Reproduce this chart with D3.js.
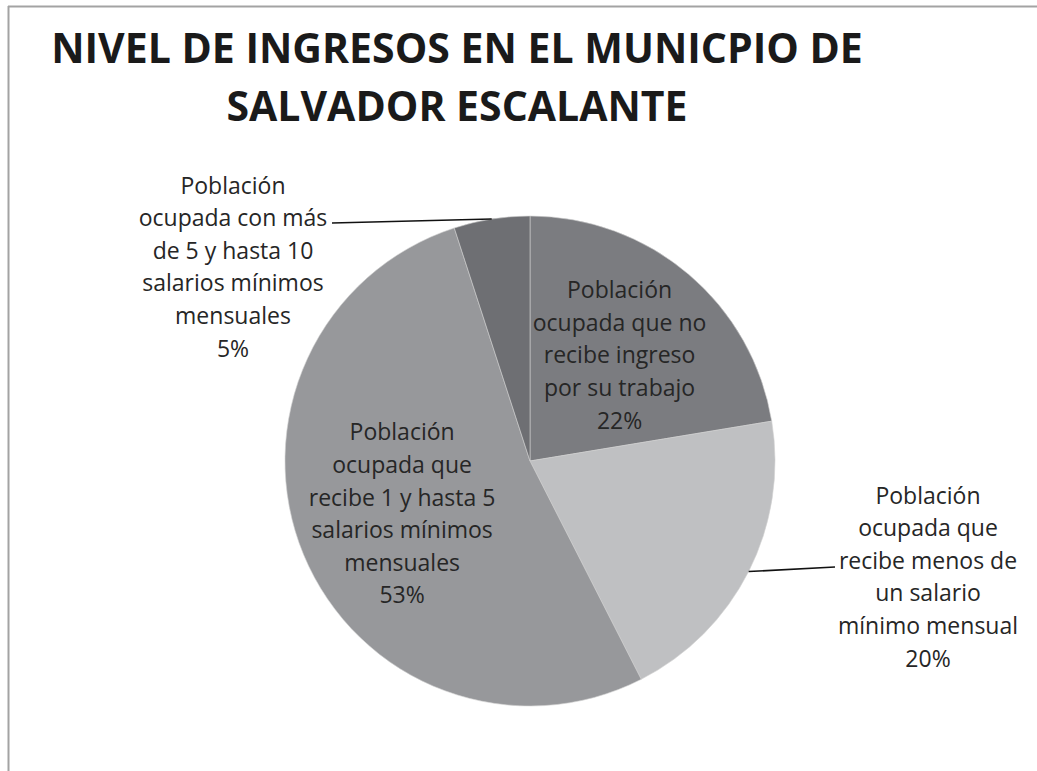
<!DOCTYPE html>
<html>
<head>
<meta charset="utf-8">
<script src="https://cdn.jsdelivr.net/npm/d3@7"></script>
<style>
  body { margin: 0; background: #fff; }
  svg { display: block; }
  .title { font-family: "Open Sans", sans-serif; font-weight: bold; fill: #1a1a1a; }
  .lbl { font-family: "Open Sans", sans-serif; fill: #262626; }
</style>
</head>
<body>
<div id="chart"></div>
<script>
// chart data
const titleLines = ['NIVEL DE INGRESOS EN EL MUNICPIO DE', 'SALVADOR ESCALANTE'];
const categories = [
  'Población ocupada que no recibe ingreso por su trabajo',
  'Población ocupada que recibe menos de un salario mínimo mensual',
  'Población ocupada que recibe 1 y hasta 5 salarios mínimos mensuales',
  'Población ocupada con más de 5 y hasta 10 salarios mínimos mensuales'
];
const values = [22.4, 20.1, 52.5, 5.0];
const pctLabels = ['22%', '20%', '53%', '5%'];
// how each label is broken into lines (as in the original)
const labelLines = [
  ['Población', 'ocupada que no', 'recibe ingreso', 'por su trabajo'],
  ['Población', 'ocupada que', 'recibe menos de', 'un salario', 'mínimo mensual'],
  ['Población', 'ocupada que', 'recibe 1 y hasta 5', 'salarios mínimos', 'mensuales'],
  ['Población', 'ocupada con más', 'de 5 y hasta 10', 'salarios mínimos', 'mensuales']
];
const sliceColors = ['#7b7c80', '#bfc0c2', '#97989b', '#6e6f73'];

const width = 1037;
const height = 771;
const cx = 530, cy = 461, radius = 245;
const lineGap = 32.6;

// where labels sit: inside ones follow the slice, outside ones were dragged out
const labelSpots = [
  { inside: true },
  { inside: false, x: 928, y: 577, leadEnd: [835, 567] },
  { inside: true },
  { inside: false, x: 233, y: 267, leadEnd: [332, 223] }
];

const svg = d3.select('#chart')
  .append('svg')
  .attr('width', width)
  .attr('height', height);

// chart area frame (only top and left edges show)
svg.append('line')
  .attr('x1', 8).attr('x2', width).attr('y1', 6.5).attr('y2', 6.5)
  .attr('stroke', '#a3a3a3').attr('stroke-width', 2);
svg.append('line')
  .attr('x1', 8.5).attr('x2', 8.5).attr('y1', 6).attr('y2', height)
  .attr('stroke', '#a3a3a3').attr('stroke-width', 2);

// title
svg.append('g')
  .selectAll('text')
  .data(titleLines)
  .join('text')
  .attr('class', 'title')
  .attr('x', 457)
  .attr('y', (d, i) => 63 + i * 58)
  .attr('text-anchor', 'middle')
  .attr('font-size', 41)
  .text((d) => d);

const pie = d3.pie().sort(null).value((d) => d);
const arcs = pie(values);

const arc = d3.arc().innerRadius(0).outerRadius(radius);
const labelArc = d3.arc().innerRadius(radius * 0.565).outerRadius(radius * 0.565);
const edgeArc = d3.arc().innerRadius(radius).outerRadius(radius);

const g = svg.append('g').attr('transform', `translate(${cx},${cy})`);

g.selectAll('path')
  .data(arcs)
  .join('path')
  .attr('d', arc)
  .attr('fill', (d, i) => sliceColors[i])
  .attr('stroke', '#d0d0d0')
  .attr('stroke-width', 0.6);

// leader lines for the outside labels
arcs.forEach((a, i) => {
  const spot = labelSpots[i];
  if (spot.inside) return;
  const [ex, ey] = edgeArc.centroid(a);
  svg.append('line')
    .attr('x1', cx + ex).attr('y1', cy + ey)
    .attr('x2', spot.leadEnd[0]).attr('y2', spot.leadEnd[1])
    .attr('stroke', '#111').attr('stroke-width', 1.6);
});

// labels
arcs.forEach((a, i) => {
  const spot = labelSpots[i];
  let x, y;
  if (spot.inside) {
    const [lx, ly] = labelArc.centroid(a);
    x = cx + lx; y = cy + ly;
  } else {
    x = spot.x; y = spot.y;
  }
  const lines = labelLines[i].concat([pctLabels[i]]);
  const firstBase = y - ((lines.length - 1) * lineGap) / 2 + 8;
  svg.append('g')
    .selectAll('text')
    .data(lines)
    .join('text')
    .attr('class', 'lbl')
    .attr('x', x)
    .attr('y', (d, j) => firstBase + j * lineGap)
    .attr('text-anchor', 'middle')
    .attr('font-size', 23)
    .text((d) => d);
});
</script>
</body>
</html>
